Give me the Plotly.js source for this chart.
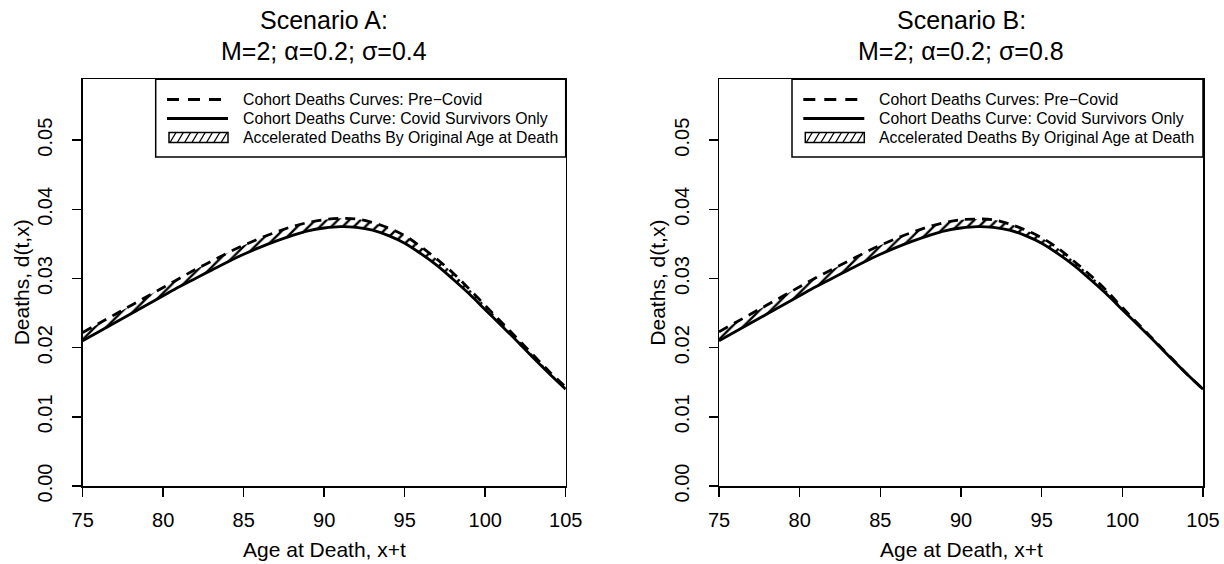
<!DOCTYPE html>
<html>
<head>
<meta charset="utf-8">
<script src="https://cdn.plot.ly/plotly-3.0.1.min.js"></script>
<style>html,body{margin:0;padding:0;background:#fff;}#chart{width:1224px;height:564px;}</style>
</head>
<body>
<div id="chart"></div>
<script>
// ---- data ----
var ages = [75,76,77,78,79,80,81,82,83,84,85,86,87,88,89,90,91,92,93,94,95,96,97,98,99,100,101,102,103,104,105];

var survivorsA = [0.0210,0.0223,0.0236,0.0249,0.0262,0.0275,0.0288,0.0300,0.0312,0.0324,0.0335,0.0345,0.0354,0.0362,0.0369,0.0373,0.0375,0.0374,0.0370,0.0362,0.0351,0.0336,0.0319,0.0299,0.0278,0.0255,0.0232,0.0209,0.0185,0.0162,0.0140];
var preCovidA  = [0.0222,0.0235,0.0248,0.0261,0.0274,0.0287,0.0300,0.0313,0.0325,0.0337,0.0348,0.0358,0.0367,0.0375,0.0381,0.0385,0.0387,0.0386,0.0381,0.0373,0.0362,0.0346,0.0328,0.0308,0.0285,0.0261,0.0237,0.0213,0.0189,0.0165,0.0143];

var survivorsB = [0.0210,0.0223,0.0236,0.0249,0.0262,0.0275,0.0288,0.0300,0.0312,0.0324,0.0335,0.0345,0.0354,0.0362,0.0369,0.0373,0.0375,0.0374,0.0370,0.0362,0.0351,0.0336,0.0319,0.0299,0.0278,0.0255,0.0232,0.0209,0.0185,0.0162,0.0140];
var preCovidB  = [0.0223,0.0236,0.0249,0.0262,0.0275,0.0288,0.0301,0.0313,0.0325,0.0337,0.0348,0.0358,0.0367,0.0375,0.0381,0.0385,0.0386,0.0385,0.0379,0.0370,0.0359,0.0344,0.0325,0.0305,0.0283,0.0258,0.0234,0.0210,0.0186,0.0162,0.0140];

var xTicks = [75,80,85,90,95,100,105];
var yTicks = [0,0.01,0.02,0.03,0.04,0.05];
var yTickText = ['0.00','0.01','0.02','0.03','0.04','0.05'];

var panelTitles = ['Scenario A:', 'Scenario B:'];
var panelSubtitles = ['M=2; \u03b1=0.2; \u03c3=0.4', 'M=2; \u03b1=0.2; \u03c3=0.8'];
var legendLabels = ['Cohort Deaths Curves: Pre\u2212Covid', 'Cohort Deaths Curve: Covid Survivors Only', 'Accelerated Deaths By Original Age at Death'];
var xTitle = 'Age at Death, x+t';
var yTitle = 'Deaths, d(t,x)';

// ---- layout helpers ----
var W = 1224, H = 564;
var FONT = 'Liberation Sans, Arial, sans-serif';
function px(x){ return x / W; }
function py(y){ return 1 - y / H; }
var panels = [
  {left: 82.7, right: 565.7, xa: 'x', ya: 'y'},
  {left: 719, right: 1203, xa: 'x2', ya: 'y2'}
];
var plotTop = 79.3, plotBottom = 486;

var traces = [];
var series = [[survivorsA, preCovidA], [survivorsB, preCovidB]];
series.forEach(function(s, i){
  traces.push({
    x: ages, y: s[0], xaxis: panels[i].xa, yaxis: panels[i].ya,
    type: 'scatter', mode: 'lines', line: {color: 'black', width: 2.8, shape: 'spline', smoothing: 1},
    hoverinfo: 'skip', showlegend: false
  });
  traces.push({
    x: ages, y: s[1], xaxis: panels[i].xa, yaxis: panels[i].ya,
    type: 'scatter', mode: 'lines', fill: 'tonexty', fillcolor: 'white',
    fillpattern: {shape: '/', size: 8, solidity: 0.3, fgcolor: 'black', bgcolor: 'white'},
    line: {color: 'black', width: 2.8, dash: '10px,7px', shape: 'spline', smoothing: 1},
    hoverinfo: 'skip', showlegend: false
  });
});

function xAxis(p){
  return {
    domain: [px(p.left), px(p.right)], range: [75, 105], anchor: p.ya,
    tickmode: 'array', tickvals: xTicks, ticks: 'outside', ticklen: 9, tickwidth: 1.5, tickcolor: 'black',
    showline: true, linecolor: 'black', linewidth: 1.5, mirror: true,
    showgrid: false, zeroline: false, ticklabelstandoff: 6,
    tickfont: {family: FONT, size: 20, color: 'black'}
  };
}
function yAxis(p){
  return {
    domain: [py(plotBottom), py(plotTop)], range: [0, 0.0588], anchor: p.xa,
    tickmode: 'array', tickvals: yTicks, ticktext: yTickText, tickangle: -90,
    ticks: 'outside', ticklen: 9, tickwidth: 1.5, tickcolor: 'black',
    showline: true, linecolor: 'black', linewidth: 1.5, mirror: true,
    showgrid: false, zeroline: false, ticklabelstandoff: 12,
    tickfont: {family: FONT, size: 20, color: 'black'}
  };
}

var shapes = [], annotations = [];
panels.forEach(function(p, i){
  var cx = (p.left + p.right) / 2;
  annotations.push({xref:'paper', yref:'paper', x: px(cx), y: py(20), text: panelTitles[i], showarrow:false, xanchor:'center', yanchor:'middle', font:{family:FONT, size:25, color:'black'}});
  annotations.push({xref:'paper', yref:'paper', x: px(cx), y: py(51), text: panelSubtitles[i], showarrow:false, xanchor:'center', yanchor:'middle', font:{family:FONT, size:25, color:'black'}});
  annotations.push({xref:'paper', yref:'paper', x: px(cx), y: py(549), text: xTitle, showarrow:false, xanchor:'center', yanchor:'middle', font:{family:FONT, size:21, color:'black'}});
  annotations.push({xref:'paper', yref:'paper', x: px(p.left - 61), y: py((plotTop + plotBottom) / 2), text: yTitle, textangle: -90, showarrow:false, xanchor:'center', yanchor:'middle', font:{family:FONT, size:21, color:'black'}});

  // legend box
  var dx = p.left - 82.7;
  var L = 155.7 + dx, R = p.right, T = plotTop, B = 157;
  shapes.push({type:'rect', xref:'paper', yref:'paper', x0: px(L), x1: px(R), y0: py(B), y1: py(T), line:{color:'black', width:1.5}, fillcolor:'white', layer:'above'});
  var sx0 = 167 + dx, sx1 = 228 + dx;
  shapes.push({type:'line', xref:'paper', yref:'paper', x0: px(sx0), x1: px(sx1), y0: py(99.5), y1: py(99.5), line:{color:'black', width:3, dash:'12px,9px'}, layer:'above'});
  shapes.push({type:'line', xref:'paper', yref:'paper', x0: px(sx0), x1: px(sx1), y0: py(118.5), y1: py(118.5), line:{color:'black', width:3}, layer:'above'});
  var hx0 = 169 + dx, hx1 = 228 + dx, hy0 = 132.5, hy1 = 142.5;
  shapes.push({type:'rect', xref:'paper', yref:'paper', x0: px(hx0), x1: px(hx1), y0: py(hy1), y1: py(hy0), line:{color:'black', width:1.5}, fillcolor:'white', layer:'above'});
  for (var k = 0; k < 8; k++){
    var bx = hx0 + 1 + k * 7.3;
    shapes.push({type:'line', xref:'paper', yref:'paper', x0: px(bx), x1: px(Math.min(bx + 6, hx1)), y0: py(hy1), y1: py(hy0), line:{color:'black', width:1.3}, layer:'above'});
  }
  var rows = [99.5, 118.5, 137.5];
  legendLabels.forEach(function(t, j){
    annotations.push({xref:'paper', yref:'paper', x: px(241 + dx), y: py(rows[j]), text: t, showarrow:false, xanchor:'left', yanchor:'middle', font:{family:FONT, size:15.8, color:'black'}});
  });
});

var layout = {
  width: W, height: H, margin: {l:0, r:0, t:0, b:0},
  paper_bgcolor: 'white', plot_bgcolor: 'white', showlegend: false,
  xaxis: xAxis(panels[0]), yaxis: yAxis(panels[0]),
  xaxis2: xAxis(panels[1]), yaxis2: yAxis(panels[1]),
  shapes: shapes, annotations: annotations
};

Plotly.newPlot('chart', traces, layout, {staticPlot: true, displayModeBar: false});
</script>
</body>
</html>
